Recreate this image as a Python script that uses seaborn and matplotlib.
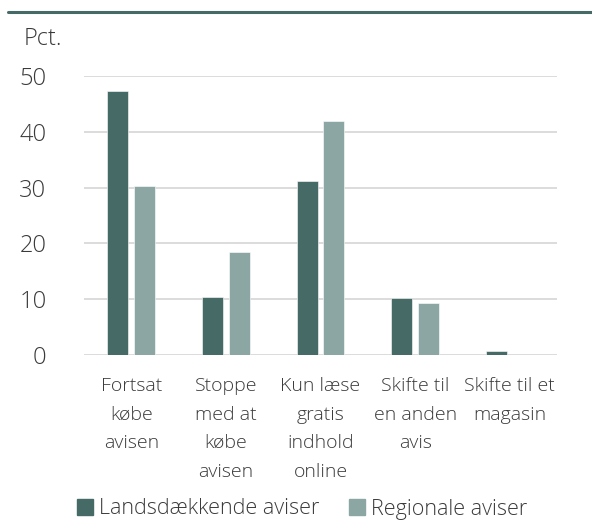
import matplotlib
matplotlib.use("Agg")
import matplotlib.pyplot as plt
from matplotlib.lines import Line2D
import seaborn as sns
import pandas as pd

categories = ["Fortsat\nkøbe\navisen", "Stoppe\nmed at\nkøbe\navisen", "Kun læse\ngratis\nindhold\nonline",
              "Skifte til\nen anden\navis", "Skifte til et\nmagasin"]
series_names = ["Landsdækkende aviser", "Regionale aviser"]
landsdaekkende = [47.4, 10.4, 31.1, 10.2, 0.8]
regionale = [30.2, 18.5, 41.9, 9.3, 0.0]
y_ticks = [0, 10, 20, 30, 40, 50]
colors = ["#466B67", "#8CA6A4"]
text_color = "#3a3a3a"

df = pd.DataFrame({
    "cat": categories * 2,
    "serie": [series_names[0]] * 5 + [series_names[1]] * 5,
    "val": landsdaekkende + regionale,
})

sns.set_theme(style="white")
plt.rcParams["font.family"] = ["Open Sans", "DejaVu Sans"]

fig = plt.figure(figsize=(5.92, 5.23), dpi=100)
ax = fig.add_axes([84/592, 1 - 355/523, (557-84)/592, (355-76)/523])

sns.barplot(data=df, x="cat", y="val", hue="serie", palette=colors, order=categories,
            hue_order=series_names, width=0.567, gap=0.216, ax=ax, legend=False,
            edgecolor="white", linewidth=0.4, saturation=1)

ax.set_ylim(0, 50)
ax.set_xlim(-0.5, 4.5)
ax.set_yticks(y_ticks)
ax.yaxis.grid(True, color="#d9d9d9", linewidth=1.3)
ax.set_axisbelow(True)
for s in ax.spines.values():
    s.set_visible(False)
ax.set_xlabel("")
ax.set_ylabel("")
ax.tick_params(axis="y", length=0, pad=27, labelsize=17, labelcolor=text_color)
ax.tick_params(axis="x", length=0, pad=16, labelsize=14, labelcolor=text_color)
for lab in ax.get_yticklabels():
    lab.set_fontweight("light")
for lab in ax.get_xticklabels():
    lab.set_linespacing(1.75)
    lab.set_fontweight("light")
    lab.set_ha("center")
    lab.set_va("top")

fig.text(24/592, 1 - 39/523, "Pct.", fontsize=17, color=text_color, ha="left", va="center",
         fontweight="light")

fig.add_artist(Line2D([8/592, 1.0], [1 - 12/523, 1 - 12/523], color="#466B67", linewidth=2.2,
                      transform=fig.transFigure))

handles = [plt.Rectangle((0, 0), 1, 1, color=c) for c in colors]
leg = fig.legend(handles, series_names, loc="center", bbox_to_anchor=(0.51, 1 - 509/523), ncol=2,
                 frameon=False, fontsize=15.5, handlelength=0.75, handleheight=0.75,
                 handletextpad=0.25, columnspacing=1.4, borderaxespad=0)
for t in leg.get_texts():
    t.set_color(text_color)
    t.set_fontweight("light")

fig.savefig("out.png", dpi=100)
